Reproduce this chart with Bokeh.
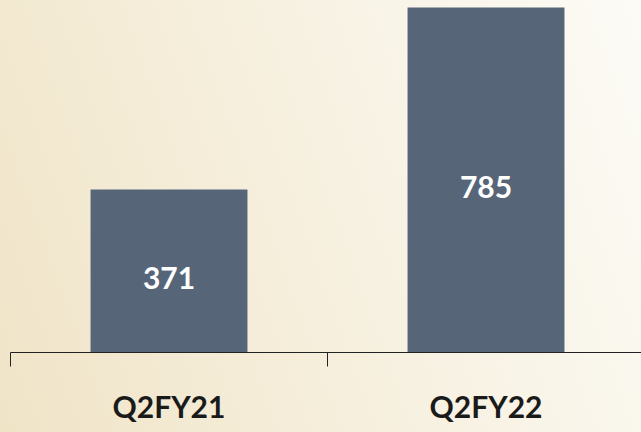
from bokeh.plotting import figure
from bokeh.models import Range1d, FixedTicker, ColumnDataSource, LinearAxis
from bokeh.core.properties import value
from bokeh.embed import file_html
from bokeh.resources import INLINE

categories = ["Q2FY21", "Q2FY22"]
values = [371, 785]
positions = [0.5, 1.5]

src = ColumnDataSource(dict(x=positions, top=values, mid=[v / 2 for v in values],
                            label=[str(v) for v in values]))

p = figure(width=641, height=432, output_backend="svg", toolbar_location=None,
           x_range=Range1d(0, 1.9905), y_range=Range1d(0, 801),
           x_axis_location=None, y_axis_location=None,
           min_border_left=10, min_border_right=0, min_border_top=0, min_border_bottom=80)
p.styles = {"background": "linear-gradient(70deg, #f0e4c7 0%, #f6efdd 45%, #fcfbf6 100%)"}
p.background_fill_alpha = 0
p.border_fill_alpha = 0
p.outline_line_color = None
p.grid.visible = False

p.vbar(x="x", top="top", bottom=0, width=0.495, source=src,
       fill_color="#576579", line_color=None)

p.text(x="x", y="mid", text="label", source=src, text_color="white",
       text_font=value("Lato"), text_font_style="bold", text_font_size="30px",
       text_align="center", text_baseline="middle", y_offset=7)

ax = LinearAxis(ticker=FixedTicker(ticks=positions, minor_ticks=[0, 1, 2]),
                major_label_overrides={0.5: categories[0], 1.5: categories[1]})
ax.axis_line_color = "#222222"
ax.axis_line_width = 1
ax.major_tick_line_color = None
ax.major_tick_out = 0
ax.major_tick_in = 0
ax.minor_tick_line_color = "#222222"
ax.minor_tick_out = 14
ax.minor_tick_in = 0
ax.major_label_standoff = 21
ax.major_label_text_font = "Lato"
ax.major_label_text_font_style = "bold"
ax.major_label_text_font_size = "30px"
ax.major_label_text_color = "#1a1a1a"
p.add_layout(ax, "below")

open("out.html", "w").write(file_html(p, INLINE))
